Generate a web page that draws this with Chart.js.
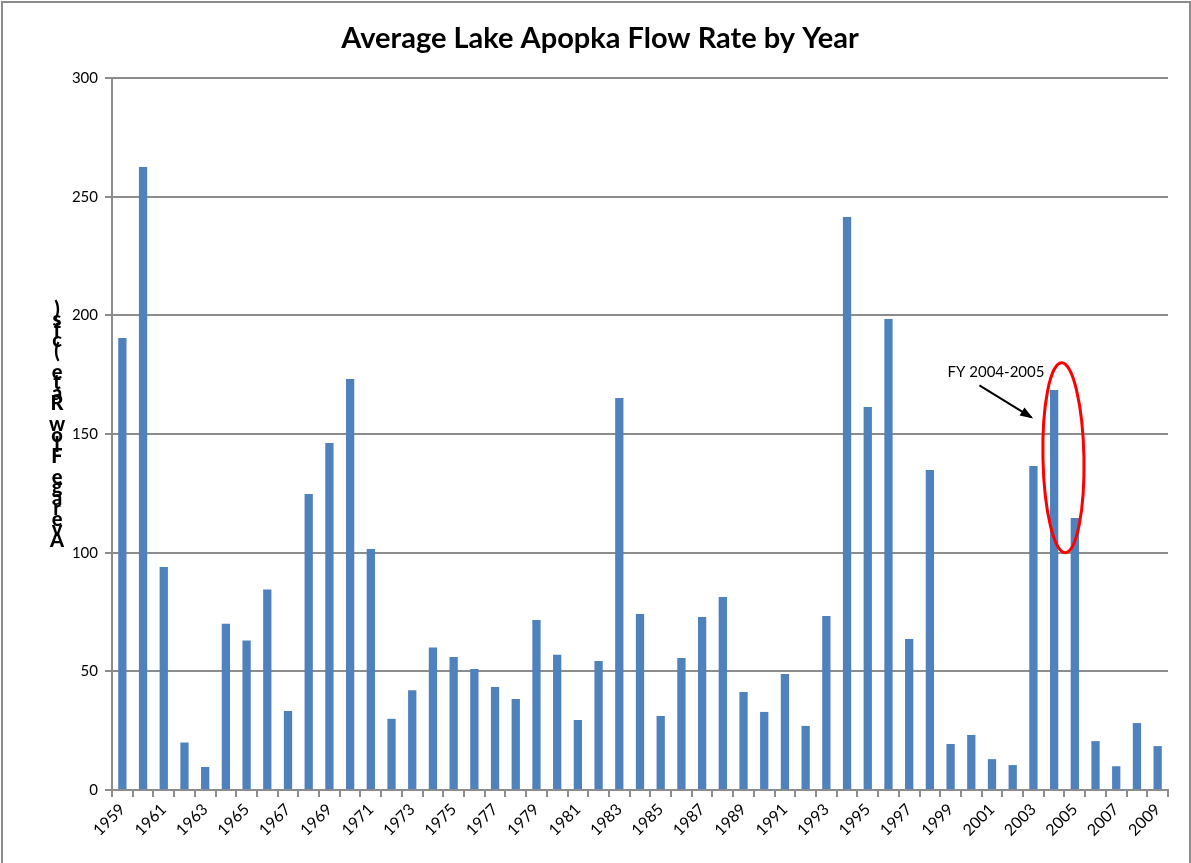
<!DOCTYPE html>
<html>
<head>
<meta charset="utf-8">
<script src="https://cdn.jsdelivr.net/npm/chart.js@4.4.1/dist/chart.umd.min.js"></script>
<style>
html,body{margin:0;padding:0;background:#fff;}
#wrap{width:1191px;height:863px;position:relative;}
</style>
</head>
<body>
<div id="wrap"><canvas id="c" width="1191" height="863"></canvas></div>
<script>
const years = [];
for (let y = 1959; y <= 2009; y++) years.push(String(y));
const flowRates = [190.5, 262.5, 94, 20, 9.7, 70, 63, 84.5, 33.3, 124.7,
  146.2, 173.2, 101.5, 30, 42, 60, 56, 51, 43.4, 38.3,
  71.6, 57, 29.5, 54.4, 165.2, 74.2, 31.2, 55.6, 72.9, 81.3,
  41.3, 32.9, 48.9, 27, 73.3, 241.4, 161.4, 198.5, 63.6, 134.8,
  19.4, 23.2, 13, 10.5, 136.5, 168.5, 114.6, 20.6, 10, 28.2, 18.5];
const yTicks = [0, 50, 100, 150, 200, 250, 300];
const titleText = 'Average Lake Apopka Flow Rate by Year';
const yLabelText = 'Average Flow Rate (cfs)';
const annotationText = 'FY 2004-2005';
const highlightYear = '2004';

const FONT = 'Lato, "Open Sans", sans-serif';

const extras = {
  id: 'extras',
  beforeDraw(chart) {
    const ctx = chart.ctx;
    ctx.save();
    ctx.fillStyle = '#fff';
    ctx.fillRect(0, 0, chart.width, chart.height);
    ctx.strokeStyle = '#8c8c8c';
    ctx.lineWidth = 2;
    ctx.strokeRect(2, 2, chart.width - 3, chart.height + 10);
    ctx.restore();
  },
  afterDraw(chart) {
    const ctx = chart.ctx;
    const ca = chart.chartArea;
    const xs = chart.scales.x, ys = chart.scales.y;
    ctx.save();
    // stacked y label (chars upright, reversed top to bottom)
    ctx.font = '900 20px ' + FONT;
    ctx.fillStyle = '#000';
    ctx.textAlign = 'center';
    ctx.textBaseline = 'middle';
    const chars = yLabelText.split('');
    const step = 10.5;
    const mid = (ca.top + ca.bottom) / 2 - 9;
    const total = (chars.length - 1) * step;
    chars.forEach((ch, i) => {
      const yy = mid + total / 2 - i * step;
      ctx.fillText(ch, 57, yy);
    });
    // annotation
    const idx = years.indexOf(highlightYear);
    const bx = xs.getPixelForValue(idx);
    const cw = (ca.right - ca.left) / years.length;
    const ex = bx + cw * 0.45;
    const eyTop = ys.getPixelForValue(180);
    const eyBot = ys.getPixelForValue(100);
    ctx.strokeStyle = '#ff0000';
    ctx.lineWidth = 3;
    ctx.beginPath();
    ctx.ellipse(ex, (eyTop + eyBot) / 2, 20.5, (eyBot - eyTop) / 2, -0.02, 0, Math.PI * 2);
    ctx.stroke();
    // text
    ctx.font = '15px ' + FONT;
    ctx.fillStyle = '#000';
    ctx.textAlign = 'right';
    ctx.textBaseline = 'middle';
    const ty = ys.getPixelForValue(176);
    ctx.fillText(annotationText, ex - 19, ty);
    // arrow
    const ax1 = ex - 84, ay1 = ty + 13;
    const ax2 = ex - 32, ay2 = ys.getPixelForValue(157);
    ctx.strokeStyle = '#000';
    ctx.lineWidth = 2;
    ctx.beginPath();
    ctx.moveTo(ax1, ay1);
    ctx.lineTo(ax2, ay2);
    ctx.stroke();
    const ang = Math.atan2(ay2 - ay1, ax2 - ax1);
    ctx.fillStyle = '#000';
    ctx.beginPath();
    ctx.moveTo(ax2 + 2 * Math.cos(ang), ay2 + 2 * Math.sin(ang));
    ctx.lineTo(ax2 - 12 * Math.cos(ang - 0.4), ay2 - 12 * Math.sin(ang - 0.4));
    ctx.lineTo(ax2 - 12 * Math.cos(ang + 0.4), ay2 - 12 * Math.sin(ang + 0.4));
    ctx.closePath();
    ctx.fill();
    ctx.restore();
  }
};

new Chart(document.getElementById('c'), {
  type: 'bar',
  data: {
    labels: years,
    datasets: [{
      data: flowRates,
      backgroundColor: '#4F81BD',
      borderWidth: 0,
      barPercentage: 0.4,
      categoryPercentage: 1.0
    }]
  },
  options: {
    responsive: false,
    animation: false,
    layout: { padding: { left: 32, right: 23, top: 0, bottom: 0 } },
    plugins: {
      legend: { display: false },
      tooltip: { enabled: false },
      title: {
        display: true,
        text: titleText,
        color: '#000',
        font: { family: FONT, size: 29, weight: 'bold', lineHeight: 1.2 },
        padding: { top: 21, bottom: 22.2 }
      }
    },
    scales: {
      x: {
        offset: true,
        grid: { display: true, drawOnChartArea: false, drawTicks: true, tickLength: 7, color: '#8c8c8c', lineWidth: 2, offset: true },
        border: { display: true, color: '#8c8c8c', width: 2 },
        ticks: {
          autoSkip: false,
          maxRotation: 45, minRotation: 45,
          color: '#000',
          padding: 3,
          font: { family: FONT, size: 16 },
          callback: function(v, i) { return i % 2 === 0 ? years[i] : ''; }
        },
        afterFit(scale) { scale.height = 73; }
      },
      y: {
        min: 0, max: 300,
        afterBuildTicks(scale) { scale.ticks = yTicks.map(v => ({ value: v })); },
        grid: { color: '#8c8c8c', lineWidth: 2, tickLength: 7, drawTicks: true },
        border: { display: true, color: '#8c8c8c', width: 2 },
        ticks: { color: '#000', padding: 7, font: { family: FONT, size: 15 } },
        afterFit(scale) { scale.width = 80; }
      }
    }
  },
  plugins: [extras]
});
</script>
</body>
</html>
